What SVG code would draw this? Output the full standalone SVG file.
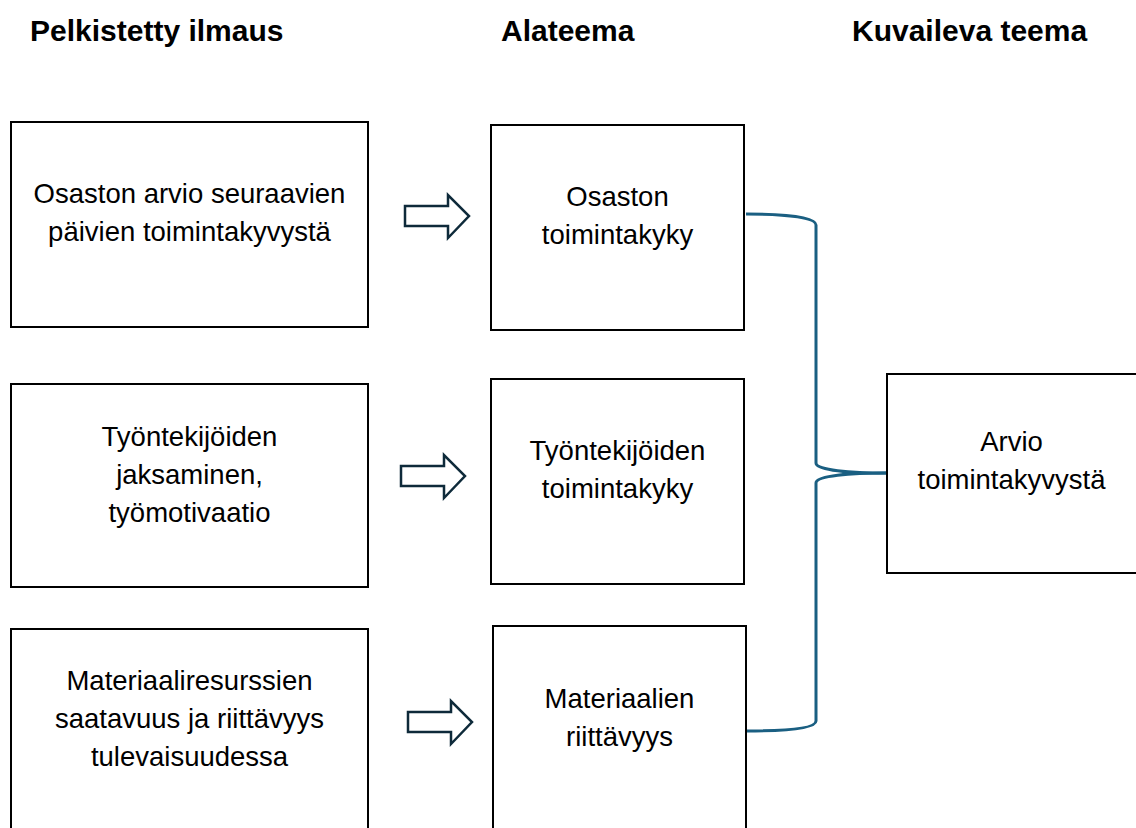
<svg xmlns="http://www.w3.org/2000/svg" width="1136" height="828" viewBox="0 0 1136 828">
<defs>
<style>
.box{fill:#fff;stroke:#000;stroke-width:2}
.t{font-family:"Liberation Sans",Arial,sans-serif;font-size:27.5px;fill:#000;text-anchor:middle}
.h{font-family:"Liberation Sans",Arial,sans-serif;font-size:30px;font-weight:bold;fill:#000}
.arr{fill:#fff;stroke:#0e2a3a;stroke-width:2.5;stroke-linejoin:miter}
.con{fill:none;stroke:#1a5f82;stroke-width:3}
</style>
<path id="ba" d="M0,-10 H43 V-21 L64,0 L43,22 V10 H0 Z"/>
</defs>
<rect width="1136" height="828" fill="#fff"/>
<g id="headers">
<text class="h" x="30" y="41">Pelkistetty ilmaus</text>
<text class="h" x="501" y="41">Alateema</text>
<text class="h" x="852" y="41">Kuvaileva teema</text>
</g>
<g id="connectors">
<path class="con" d="M746,214 C790,214 816,218 816,225 V463 C816,470 850,473 887,473"/>
<path class="con" d="M887,473 C850,473 816,476 816,483 V721 C816,728 790,731 746,731"/>
<use href="#ba" class="arr" x="405" y="216"/>
<use href="#ba" class="arr" x="401" y="476"/>
<use href="#ba" class="arr" x="408" y="722"/>
</g>
<g id="l1"><rect class="box" x="11" y="122" width="357" height="205"/>
<text class="t" x="189.5" y="203">Osaston arvio seuraavien</text><text class="t" x="189.5" y="241">päivien toimintakyvystä</text></g>
<g id="l2"><rect class="box" x="11" y="384" width="357" height="203"/>
<text class="t" x="189.5" y="446">Työntekijöiden</text><text class="t" x="189.5" y="484">jaksaminen,</text><text class="t" x="189.5" y="522">työmotivaatio</text></g>
<g id="l3"><rect class="box" x="11" y="629" width="357" height="210"/>
<text class="t" x="189.5" y="690">Materiaaliresurssien</text><text class="t" x="189.5" y="728">saatavuus ja riittävyys</text><text class="t" x="189.5" y="766">tulevaisuudessa</text></g>
<g id="m1"><rect class="box" x="491" y="125" width="253" height="205"/>
<text class="t" x="617.5" y="206">Osaston</text><text class="t" x="617.5" y="244">toimintakyky</text></g>
<g id="m2"><rect class="box" x="491" y="379" width="253" height="205"/>
<text class="t" x="617.5" y="460">Työntekijöiden</text><text class="t" x="617.5" y="498">toimintakyky</text></g>
<g id="m3"><rect class="box" x="493" y="626" width="253" height="210"/>
<text class="t" x="619.5" y="708">Materiaalien</text><text class="t" x="619.5" y="746">riittävyys</text></g>
<g id="r1"><rect class="box" x="887" y="374" width="250" height="199"/>
<text class="t" x="1011.5" y="451">Arvio</text><text class="t" x="1011.5" y="489">toimintakyvystä</text></g>
</svg>
